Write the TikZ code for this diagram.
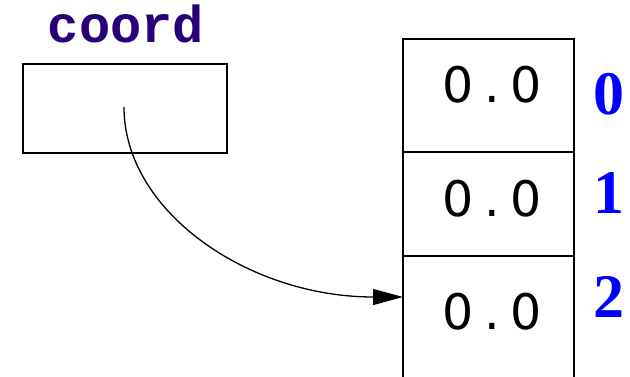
\documentclass[tikz,border=0pt]{standalone}
\usepackage{fontspec}
\usetikzlibrary{arrows.meta}
\newfontfamily\labelmono{Liberation Mono}
\newfontfamily\valsans{DejaVu Sans}
\newfontfamily\idxserif{Liberation Serif}
\definecolor{varname}{RGB}{40,0,120}
\definecolor{idxblue}{RGB}{0,0,255}
\newcommand{\valcell}[1]{\makebox[34pt][c]{#1}}
\begin{document}
\begin{tikzpicture}[x=1pt,y=-1pt,
  boxline/.style={line width=2pt},
  cell/.style={minimum width=171pt,inner sep=0pt,anchor=north west},
  valtext/.style={font=\valsans\fontsize{49}{49}\selectfont,anchor=base,inner sep=0pt},
  idxtext/.style={font=\idxserif\bfseries\fontsize{62}{62}\selectfont,text=idxblue,anchor=base,inner sep=0pt},
  vartext/.style={font=\labelmono\bfseries\fontsize{52}{52}\selectfont,text=varname,anchor=base,inner sep=0pt}]
\useasboundingbox (0,0) rectangle (630,377);
% variable box
\node[boxline,draw,minimum width=204pt,minimum height=89pt,inner sep=0pt] (coordbox) at (125,108.5) {};
\node[vartext] (coordlbl) at (126,43) {coord};
% array cells
\node[cell,minimum height=113pt] (c0) at (403,39) {};
\node[cell,minimum height=104pt] (c1) at (403,152) {};
\node[cell,minimum height=125pt] (c2) at (403,256) {};
\draw[boxline] (c0.south west) -- (c0.north west) -- (c0.north east) -- (c0.south east);
\draw[boxline] (c1.north west) -- (c1.north east);
\draw[boxline] (c2.north west) -- (c2.north east);
\draw[boxline] (c0.south west) -- (c2.south west);
\draw[boxline] (c0.south east) -- (c2.south east);
% values
\node[valtext] (v0) at (492,103) {\valcell{0}\valcell{.}\valcell{0}};
\node[valtext] (v1) at (492,217) {\valcell{0}\valcell{.}\valcell{0}};
\node[valtext] (v2) at (492,330) {\valcell{0}\valcell{.}\valcell{0}};
% indices
\node[idxtext] (i0) at (609,115) {0};
\node[idxtext] (i1) at (609,214) {1};
\node[idxtext] (i2) at (609,317) {2};
% pointer
\coordinate (tip) at (403,297);
\coordinate (start) at (124,107);
\draw[line width=1.3pt,-{Triangle[length=30pt,width=16pt]}] (start) .. controls (124,212) and (249,297) .. (tip);
\end{tikzpicture}
\end{document}
